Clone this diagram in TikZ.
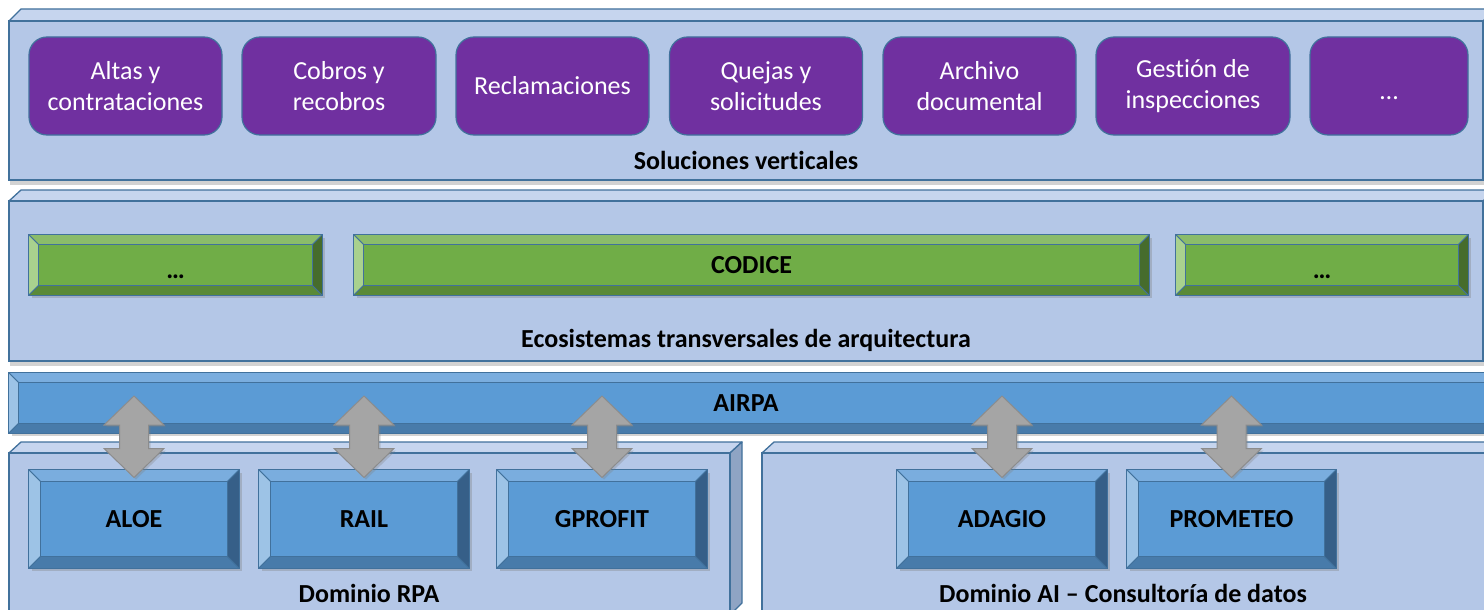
\documentclass[tikz,border=0pt]{standalone}
\usepackage{fontspec}
\setmainfont{Carlito}[Ligatures=NoCommon]
\usetikzlibrary{shadows,calc}
\definecolor{layerface}{HTML}{B4C7E7}
\definecolor{layertop}{HTML}{C6D5EE}
\definecolor{layerside}{HTML}{8FA4C4}
\definecolor{edgeblue}{HTML}{41719C}
\definecolor{purp}{HTML}{7030A0}
\definecolor{gface}{HTML}{70AD47}
\definecolor{gtop}{HTML}{8BBC6A}
\definecolor{gleft}{HTML}{A9D18E}
\definecolor{gbottom}{HTML}{5A8A37}
\definecolor{gright}{HTML}{466C2C}
\definecolor{bface}{HTML}{5B9BD5}
\definecolor{btop}{HTML}{7AADDE}
\definecolor{bleft}{HTML}{9DC3E6}
\definecolor{bbottom}{HTML}{487BAA}
\definecolor{bright}{HTML}{365F88}
\definecolor{arrfill}{HTML}{A5A5A5}
\definecolor{arredge}{HTML}{8C8C8C}
\tikzset{
  layerfront/.style={fill=layerface, draw=edgeblue, line width=1.3pt},
  layertopface/.style={fill=layertop, draw=edgeblue, line width=1.3pt, line join=round},
  layersideface/.style={fill=layerside, draw=edgeblue, line width=1.3pt, line join=round},
  lshadow/.style={drop shadow={shadow xshift=1pt, shadow yshift=-5pt, opacity=0.35}},
  solbox/.style={fill=purp, draw=edgeblue, line width=1.2pt, rounded corners=18pt,
    text=white, align=center, inner sep=0pt, minimum height=98pt,
    font=\fontsize{26}{31}\selectfont},
  bevnode/.style={draw=edgeblue, line width=1pt, inner sep=0pt,
    font=\bfseries\fontsize{26}{31}\selectfont,
    drop shadow={shadow xshift=3pt, shadow yshift=-3pt, opacity=0.35}},
  facet/.style={draw=edgeblue, line width=0.9pt, line join=round},
  lbl/.style={font=\bfseries\fontsize{26}{31}\selectfont, text=black, inner sep=0pt},
  dblarrow/.style={fill=arrfill, draw=arredge, line width=1pt, line join=miter,
    drop shadow={shadow xshift=2pt, shadow yshift=-2pt, opacity=0.3}}
}
% #1 name, #2 cx, #3 cy, #4 width, #5 height, #6 bevel, #7 colour prefix, #8 text
\newcommand\mybevbox[8]{%
  \node[bevnode, fill=#7face, minimum width=#4pt, minimum height=#5pt] (#1) at (#2,#3) {#8};
  \filldraw[facet, fill=#7top] (#1.north west) -- (#1.north east) -- ([shift={(-#6,#6)}]#1.north east) -- ([shift={(#6,#6)}]#1.north west) -- cycle;
  \filldraw[facet, fill=#7left] (#1.north west) -- ([shift={(#6,#6)}]#1.north west) -- ([shift={(#6,-#6)}]#1.south west) -- (#1.south west) -- cycle;
  \filldraw[facet, fill=#7bottom] (#1.south west) -- ([shift={(#6,-#6)}]#1.south west) -- ([shift={(-#6,-#6)}]#1.south east) -- (#1.south east) -- cycle;
  \filldraw[facet, fill=#7right] (#1.north east) -- (#1.south east) -- ([shift={(-#6,-#6)}]#1.south east) -- ([shift={(-#6,#6)}]#1.north east) -- cycle;
}
% #1 lower box, #2 upper bar
\newcommand\mydblarrow[2]{%
  \path ([yshift=-8pt]#1.north) coordinate (#1-b)
        ($(#1.north |- #2.center)+(0,-7)$) coordinate (#1-t);
  \draw[dblarrow] (#1-b) -- ++(-30,-29) -- ++(15.5,0) -- ($(#1-t)+(-14.5,29)$) -- ++(-15.5,0)
    -- (#1-t) -- ++(30,29) -- ++(-15.5,0) -- ($(#1-b)+(14.5,-29)$) -- ++(15.5,0) -- cycle;
}
\newcommand\myellip{\vphantom{A}\smash{\raisebox{-5pt}{…}}}
\begin{document}
\begin{tikzpicture}[x=1pt,y=-1pt]
\clip (0,0) rectangle (1484,610);
\fill[white] (0,0) rectangle (1484,610);

% ---- Layer 1: Soluciones verticales
\filldraw[layertopface] (9,21) -- (21,9) -- (1495,9) -- (1483,21) -- cycle;
\draw[layerfront, lshadow] (9,21) rectangle (1483,180);
\node[solbox, minimum width=193pt] (s1) at (125.5,86) {Altas y\\contrataciones};
\node[solbox, minimum width=194pt] (s2) at (339,86) {Cobros y\\recobros};
\node[solbox, minimum width=193pt] (s3) at (552.5,86) {Reclamaciones};
\node[solbox, minimum width=193pt] (s4) at (766,86) {Quejas y\\solicitudes};
\node[solbox, minimum width=193pt] (s5) at (979.5,86) {Archivo\\documental};
\node[solbox, minimum width=194pt] (s6) at (1193,86) {Gestión de\\inspecciones};
\node[solbox, minimum width=158pt] (s7) at (1389,86) {\myellip};
\node[lbl] (solv) at (746,160) {Soluciones verticales};

% ---- Layer 2: Ecosistemas transversales
\filldraw[layertopface] (9,201) -- (21,190) -- (1495,190) -- (1483,201) -- cycle;
\draw[layerfront, lshadow] (9,201) rectangle (1483,361);
\mybevbox{g1}{175.5}{265}{293}{60}{10}{g}{\myellip}
\mybevbox{codice}{751.5}{265}{795}{60}{10}{g}{CODICE}
\mybevbox{g3}{1322}{265}{292}{60}{10}{g}{\myellip}
\node[lbl] (ecos) at (746,340) {Ecosistemas transversales de arquitectura};

% ---- AIRPA bar
\mybevbox{airpa}{754.5}{403}{1491}{60}{10}{b}{}
\node[lbl] (airpalbl) at (746,403) {AIRPA};

% ---- Dominio RPA
\filldraw[layertopface] (9,453) -- (21,442) -- (742,442) -- (730,453) -- cycle;
\filldraw[layersideface] (730,453) -- (742,442) -- (742,603) -- (730,615) -- cycle;
\draw[layerfront] (9,453) rectangle (730,615);
\mybevbox{aloe}{134}{519}{210}{98}{12}{b}{ALOE}
\mybevbox{rail}{364}{519}{210}{98}{12}{b}{RAIL}
\mybevbox{gprofit}{602}{519}{210}{98}{12}{b}{GPROFIT}
\node[lbl] (drpa) at (369,593) {Dominio RPA};

% ---- Dominio AI
\filldraw[layertopface] (762,453) -- (774,442) -- (1500,442) -- (1500,453) -- cycle;
\draw[layerfront] (762,453) rectangle (1500,615);
\mybevbox{adagio}{1002}{519}{210}{98}{12}{b}{ADAGIO}
\mybevbox{prometeo}{1231.5}{519}{209}{98}{12}{b}{PROMETEO}
\node[lbl] (dai) at (1123,593) {Dominio AI – Consultoría de datos};

% ---- double arrows
\mydblarrow{aloe}{airpa}
\mydblarrow{rail}{airpa}
\mydblarrow{gprofit}{airpa}
\mydblarrow{adagio}{airpa}
\mydblarrow{prometeo}{airpa}
\end{tikzpicture}
\end{document}
